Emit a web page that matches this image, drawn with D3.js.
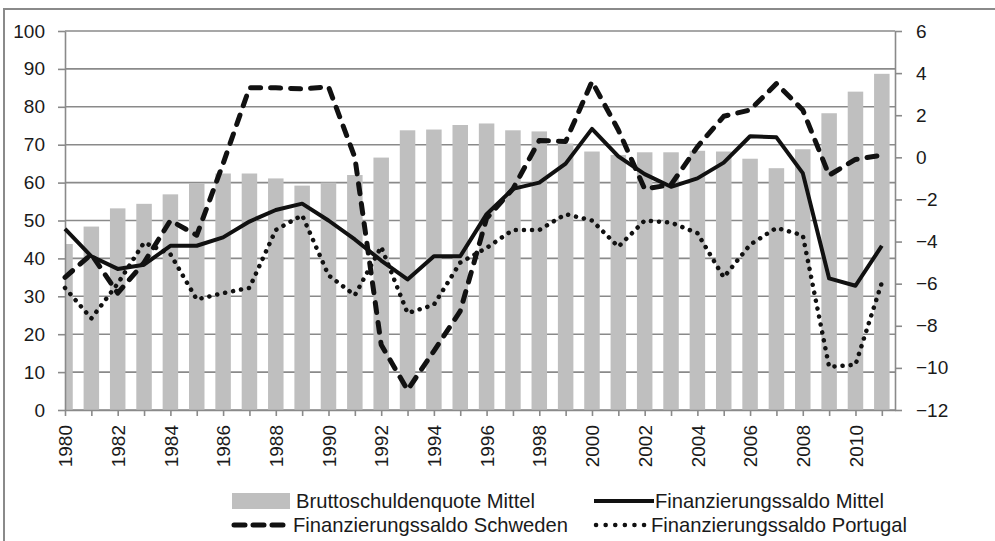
<!DOCTYPE html>
<html>
<head>
<meta charset="utf-8">
<script src="https://cdn.jsdelivr.net/npm/d3@7"></script>
<style>
	body { margin: 0; background: #fff; }
	text { font-family: "Liberation Sans", Arial, sans-serif; fill: #1a1a1a; }
</style>
</head>
<body>
<div id="container"></div>
<script>
// categories
var years = [1980, 1981, 1982, 1983, 1984, 1985, 1986, 1987, 1988, 1989,
	1990, 1991, 1992, 1993, 1994, 1995, 1996, 1997, 1998, 1999,
	2000, 2001, 2002, 2003, 2004, 2005, 2006, 2007, 2008, 2009, 2010, 2011];

// Bruttoschuldenquote Mittel (left axis, %)
var schuldenMittel = [43.8, 48.4, 53.2, 54.4, 56.9, 59.9, 62.4, 62.4, 61.1, 59.2,
	60.0, 62.0, 66.6, 73.8, 74.0, 75.2, 75.6, 73.8, 73.5, 70.3,
	68.2, 67.3, 68.0, 68.0, 68.4, 68.2, 66.3, 63.8, 68.8, 78.3, 84.0, 88.7];

// Finanzierungssaldo (right axis, %)
var saldoMittel = [-3.4, -4.7, -5.3, -5.1, -4.2, -4.2, -3.8, -3.05, -2.5, -2.2,
	-3.0, -3.9, -4.9, -5.8, -4.7, -4.7, -2.7, -1.5, -1.2, -0.3,
	1.35, 0.05, -0.8, -1.4, -1.0, -0.25, 1.0, 0.95, -0.75, -5.75, -6.1, -4.2];

var saldoSchweden = [-5.7, -4.6, -6.45, -5.0, -3.0, -3.7, -0.3, 3.3, 3.3, 3.25,
	3.35, 0.0, -8.9, -11.05, -9.2, -7.3, -2.9, -1.5, 0.8, 0.75,
	3.6, 1.3, -1.5, -1.3, 0.5, 1.95, 2.25, 3.5, 2.25, -0.85, -0.1, 0.1];

var saldoPortugal = [-6.2, -7.65, -6.0, -4.05, -4.6, -6.75, -6.45, -6.2, -3.45, -2.75,
	-5.6, -6.55, -4.25, -7.4, -7.0, -5.0, -4.3, -3.45, -3.45, -2.7,
	-3.0, -4.25, -3.0, -3.1, -3.6, -5.7, -4.15, -3.35, -3.7, -9.95, -9.85, -5.95];

// tick labels
var leftTicks = [0, 10, 20, 30, 40, 50, 60, 70, 80, 90, 100];
var rightTicks = [-12, -10, -8, -6, -4, -2, 0, 2, 4, 6];

var legendLabels = ["Bruttoschuldenquote Mittel", "Finanzierungssaldo Mittel",
	"Finanzierungssaldo Schweden", "Finanzierungssaldo Portugal"];

// plot area
var W = 995, H = 541;
var plot = {left: 65, right: 895, top: 31, bottom: 410};
var gridColor = "#8a8a8a";

var svg = d3.select("#container").append("svg")
	.attr("width", W)
	.attr("height", H);

// chart border (runs off the right and bottom)
svg.append("rect")
	.attr("x", 4).attr("y", 9)
	.attr("width", 1100).attr("height", 700)
	.attr("fill", "none")
	.attr("stroke", gridColor)
	.attr("stroke-width", 2);

// scales
var x = d3.scaleLinear().domain([1980, 2011.5]).range([plot.left, plot.right]);
var yL = d3.scaleLinear().domain([0, 100]).range([plot.bottom, plot.top]);
var yR = d3.scaleLinear().domain([-12, 6]).range([plot.bottom, plot.top]);

svg.append("clipPath").attr("id", "plotClip")
	.append("rect")
	.attr("x", plot.left).attr("y", plot.top - 5)
	.attr("width", plot.right - plot.left).attr("height", plot.bottom - plot.top + 5);

// gridlines
svg.append("g").attr("class", "grid")
	.selectAll("line")
	.data(leftTicks).enter()
	.append("line")
		.attr("x1", plot.left).attr("x2", plot.right)
		.attr("y1", function(d) { return yL(d); })
		.attr("y2", function(d) { return yL(d); })
		.attr("stroke", gridColor)
		.attr("stroke-width", 1.6);

// bars
var barW = 15.5;
svg.append("g").attr("clip-path", "url(#plotClip)")
	.selectAll(".bar")
	.data(years).enter()
	.append("rect")
		.attr("class", "bar")
		.attr("x", function(d) { return x(d) - barW / 2; })
		.attr("width", barW)
		.attr("y", function(d, i) { return yL(schuldenMittel[i]); })
		.attr("height", function(d, i) { return yL(0) - yL(schuldenMittel[i]); })
		.attr("fill", "#bfbfbf");

// axes
function styleAxis(g) {
	g.select(".domain").attr("stroke", gridColor).attr("stroke-width", 1.6);
	g.selectAll(".tick line").attr("stroke", gridColor).attr("stroke-width", 1.6);
	g.selectAll(".tick text").style("font-size", "19px").attr("fill", "#1a1a1a");
}

svg.append("g")
	.attr("transform", "translate(" + plot.left + ",0)")
	.call(d3.axisLeft(yL).tickValues(leftTicks).tickSize(7).tickPadding(13).tickSizeOuter(0))
	.call(styleAxis);

svg.append("g")
	.attr("transform", "translate(" + plot.right + ",0)")
	.call(d3.axisRight(yR).tickValues(rightTicks).tickSize(7).tickPadding(14).tickSizeOuter(0))
	.call(styleAxis);

var xAxis = svg.append("g")
	.attr("transform", "translate(0," + plot.bottom + ")")
	.call(d3.axisBottom(x).tickValues(years).tickSize(6).tickSizeOuter(0)
		.tickFormat(function(d) { return d % 2 === 0 ? d : ""; }))
	.call(styleAxis);

xAxis.selectAll(".tick text")
	.attr("transform", "rotate(-90)")
	.attr("x", -15)
	.attr("y", 0)
	.attr("dy", "0.35em")
	.style("text-anchor", "end");

// lines
var series = [
	{values: saldoMittel, width: 4, dash: null, cap: "butt", legendDash: null},
	{values: saldoSchweden, width: 5, dash: "10 10", cap: "round", legendDash: "11 8"},
	{values: saldoPortugal, width: 4.5, dash: "0.1 8", cap: "round", legendDash: "0.1 9.5"}
];

var line = d3.line()
	.x(function(d) { return x(d[0]); })
	.y(function(d) { return yR(d[1]); });

series.forEach(function(s) {
	svg.append("path")
		.datum(years.map(function(yr, i) { return [yr, s.values[i]]; }))
		.attr("d", line)
		.attr("fill", "none")
		.attr("stroke", "#111")
		.attr("stroke-width", s.width)
		.attr("stroke-linejoin", "round")
		.attr("stroke-linecap", s.cap)
		.attr("stroke-dasharray", s.dash);
});

// legend
var legend = svg.append("g").attr("class", "legend");

legend.append("rect")
	.attr("x", 232).attr("y", 493).attr("width", 58).attr("height", 16)
	.attr("fill", "#bfbfbf");

var legendLines = [
	{x1: 594, x2: 654, y: 501, s: series[0]},
	{x1: 234, x2: 285, y: 525, s: series[1]},
	{x1: 596, x2: 648, y: 525, s: series[2]}
];
legendLines.forEach(function(l) {
	legend.append("line")
		.attr("x1", l.x1).attr("x2", l.x2).attr("y1", l.y).attr("y2", l.y)
		.attr("stroke", "#111")
		.attr("stroke-width", l.s.width)
		.attr("stroke-linecap", l.s.cap)
		.attr("stroke-dasharray", l.s.legendDash);
});

var legendText = [
	{x: 296, y: 508}, {x: 655, y: 508},
	{x: 293, y: 532}, {x: 651, y: 532}
];
legend.selectAll("text")
	.data(legendLabels).enter()
	.append("text")
		.attr("x", function(d, i) { return legendText[i].x; })
		.attr("y", function(d, i) { return legendText[i].y; })
		.style("font-size", "20.2px")
		.text(function(d) { return d; });
</script>
</body>
</html>
